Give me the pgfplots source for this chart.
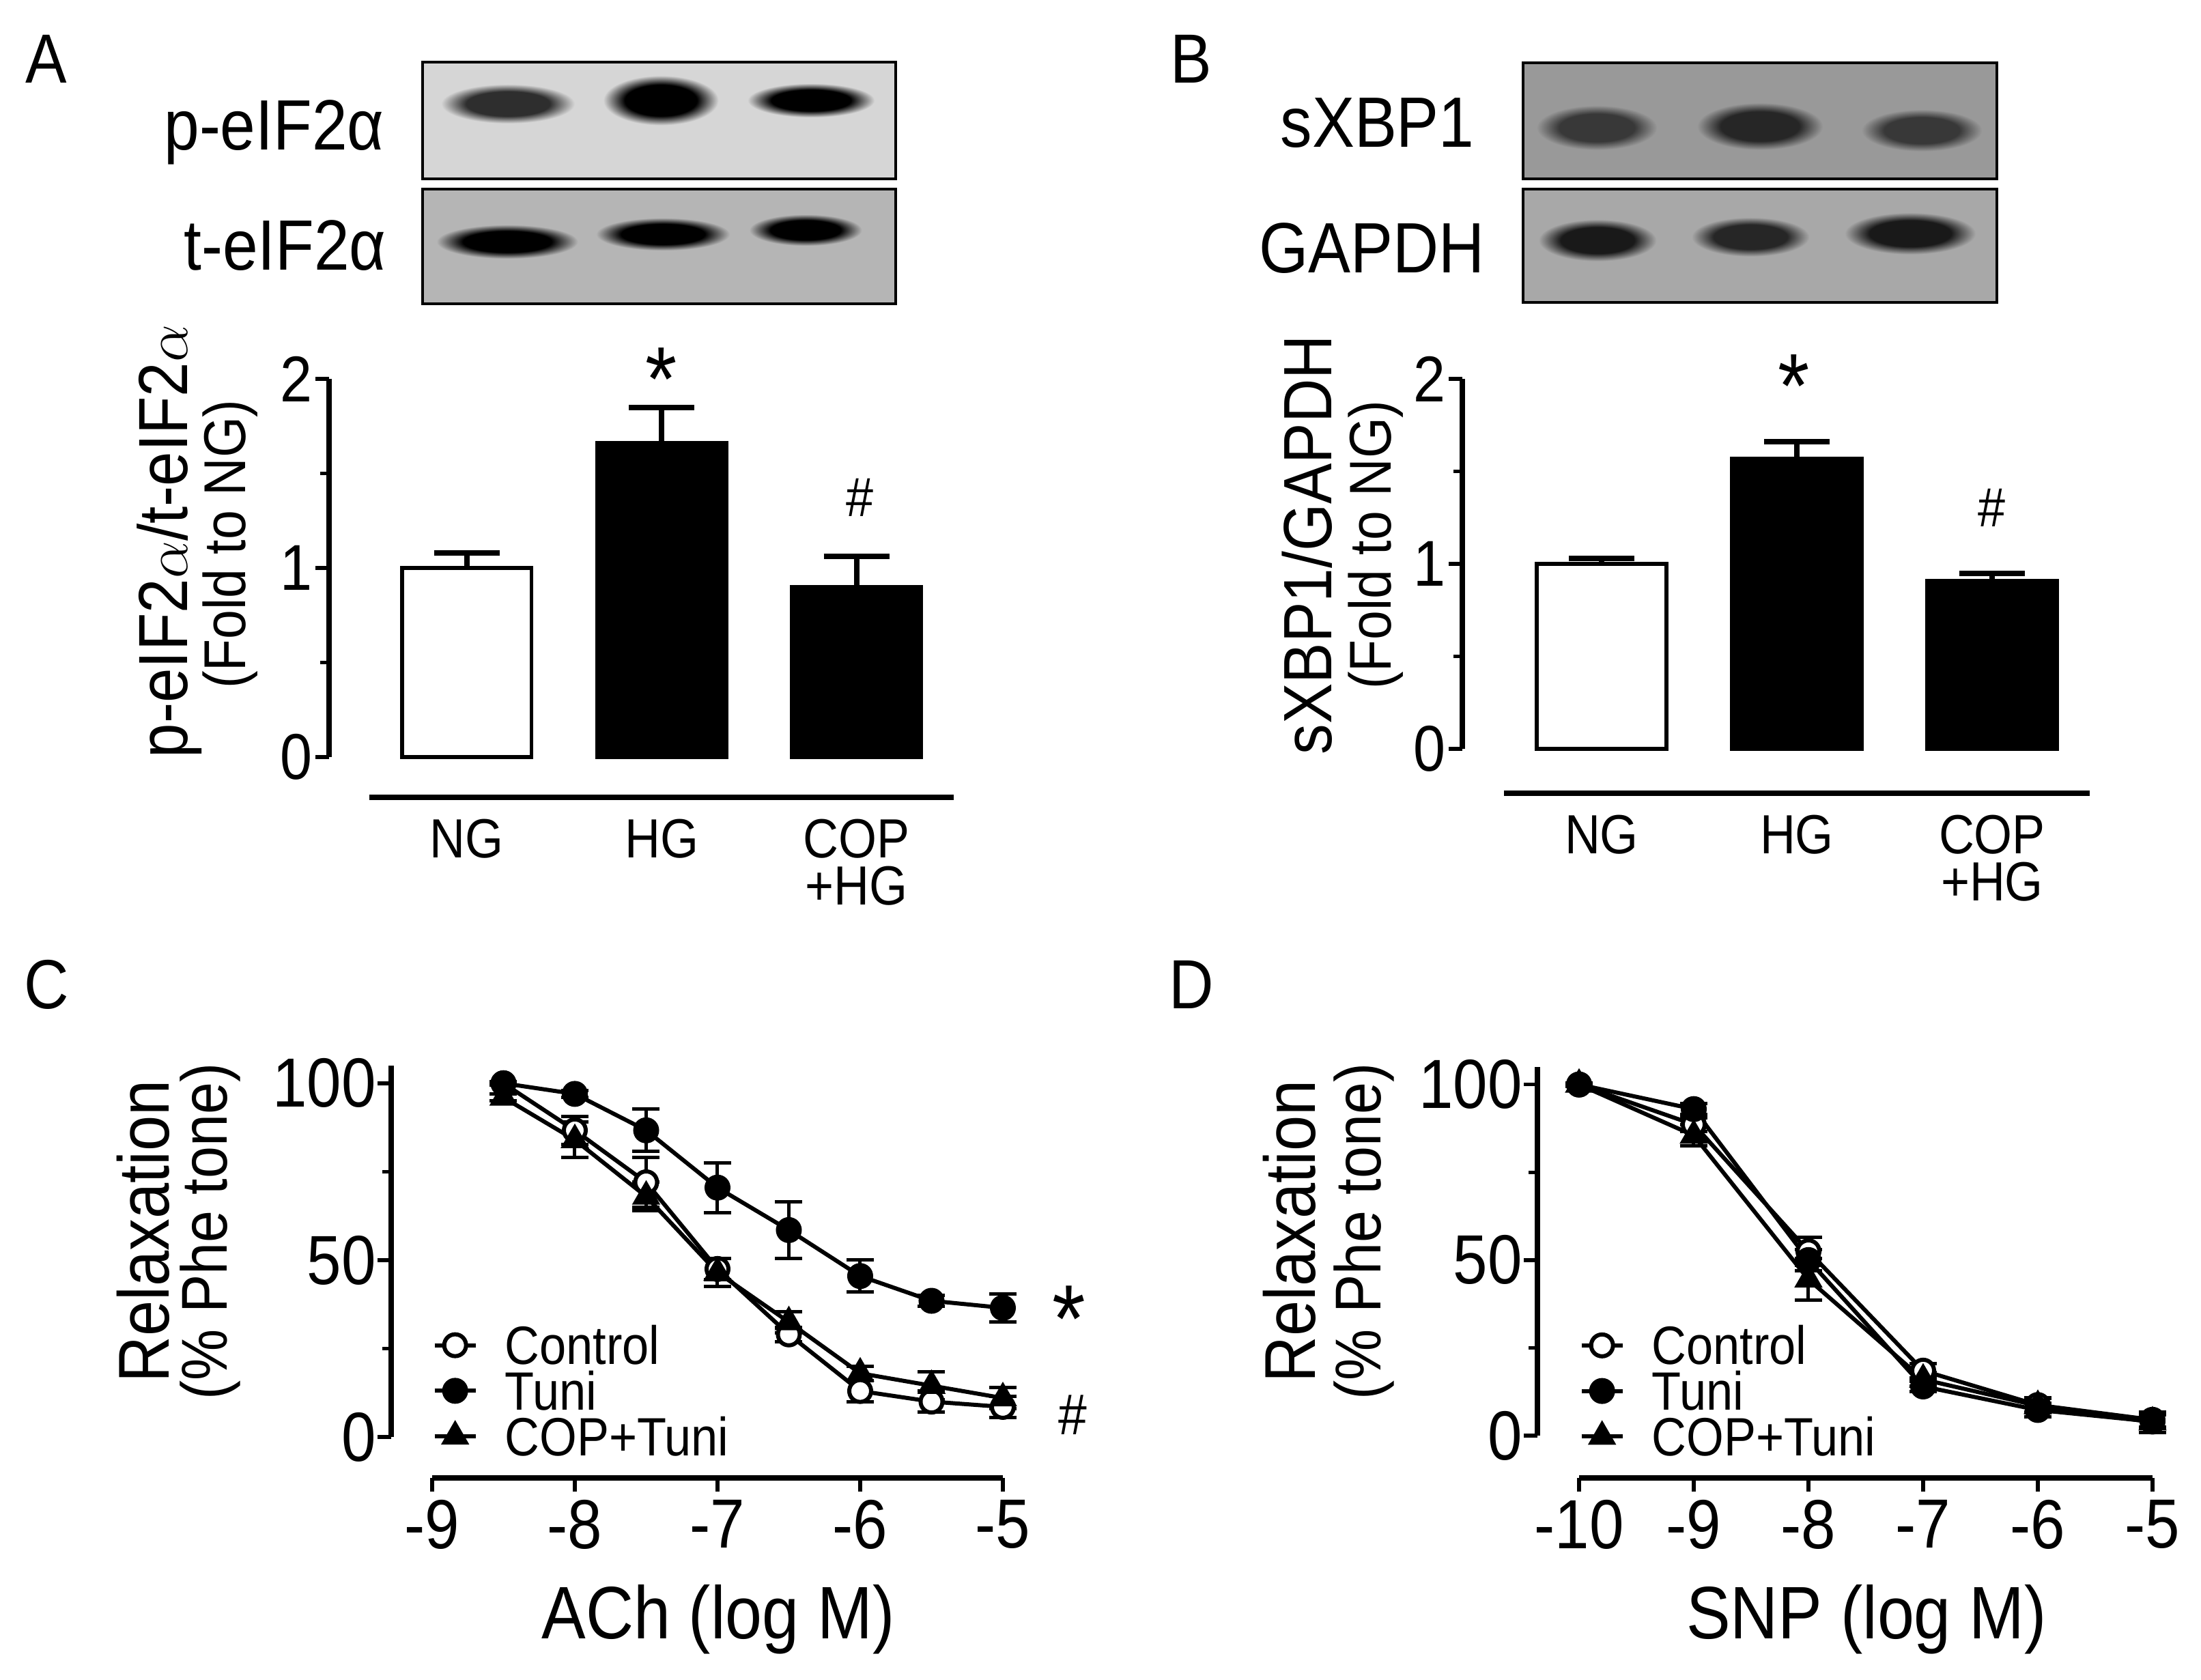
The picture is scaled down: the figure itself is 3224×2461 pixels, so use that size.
\documentclass[border=0pt]{standalone}
\usepackage{fontspec}
\setmainfont{Liberation Sans}[FakeStretch=0.89]
\usepackage{pgfplots}
\pgfplotsset{compat=1.18}
\newcommand{\fs}[1]{\fontsize{#1}{#1}\selectfont}
\colorlet{bandc}{black}\colorlet{bgc}{white}
\pgfdeclareradialshading[bandc,bgc]{band}{\pgfpointorigin}{color(0bp)=(bandc); color(15bp)=(bandc); color(24bp)=(bgc); color(50bp)=(bgc)}
\newcommand{\band}[6]{\colorlet{bandc}{#5}\colorlet{bgc}{#6}\shade[shading=band] (#1,#2) ellipse ({#3} and {#4});}
\pgfplotsset{
  myax/.style={
    scale only axis, clip=false,
    axis x line=bottom, axis y line=left,
    axis line style={line width=0.75mm,-},
    tick align=outside,
    major tick length=2mm, minor tick length=1.3mm,
    tick style={black,line width=0.55mm},
    /pgf/number format/assume math mode=true,
  },
  barax/.style={myax,
    xmin=-0.5,xmax=2.5,ymin=0,ymax=2,
    xtick={0,1,2}, xticklabels={NG,HG,{COP\\+HG}},
    major x tick style={draw=none},
    xticklabel style={align=center,font=\fontsize{23}{19.6}\selectfont},
    ytick={0,1,2}, minor ytick={0.5,1.5},
    yticklabel style={font=\fs{27},xshift=0.8mm},
  },
  bar/.style={ybar,bar width=0.665,bar shift=0pt,draw=black,line width=0.55mm,
    error bars/y dir=plus, error bars/y explicit, error bars/error mark=|,
    error bars/error bar style={line width=0.8mm,black},
    error bars/error mark options={mark size=4.8mm,line width=0.8mm,black}},
  lineax/.style={myax,
    ymin=0,ymax=105, ytick={0,50,100}, minor ytick={25,75},
    tick label style={font=\fs{29}},
    yticklabel style={xshift=1mm},
    legend cell align=left,
    legend style={draw=none, fill=none, anchor=north west, inner sep=0pt,
      row sep=3pt, column sep=4mm, font=\fs{22.5},
      nodes={inner sep=0pt, text height=16pt, text depth=0pt}},
  },
  ser/.style={black, line width=0.6mm, mark size=1.6mm,
    error bars/y dir=both, error bars/y explicit, error bars/error mark=|,
    error bars/error bar style={line width=0.5mm},
    error bars/error mark options={mark size=2mm,line width=0.5mm}},
}
\begin{document}
\begin{tikzpicture}
\begin{scope}[x=0.1mm,y=-0.1mm]
\path[use as bounding box] (0,0) rectangle (3224,2461);
% panel letters
\node[font=\fs{29}] at (68,86) {A};
\node[font=\fs{29}] at (1745,86) {B};
\node[font=\fs{29}] at (68,1442) {C};
\node[font=\fs{29}] at (1745,1442) {D};
% blots A
\fill[black!16] (619,91) rectangle (1312,262);
\band{744}{152}{102}{30}{black!82}{black!16}
\band{968}{147}{88}{38}{black}{black!16}
\band{1188}{147}{97}{26}{black}{black!16}
\draw[line width=0.35mm] (619,91) rectangle (1312,262);
\fill[black!29] (619,277) rectangle (1312,445);
\band{743}{354}{108}{26}{black}{black!29}
\band{971}{343}{102}{25}{black}{black!29}
\band{1180}{337}{86}{24}{black}{black!29}
\draw[line width=0.35mm] (619,277) rectangle (1312,445);
\node[font=\fs{29.7},anchor=base east] at (575,220) {p-eIF2α};
\node[font=\fs{29.7},anchor=base east] at (578,396) {t-eIF2α};
% blots B
\fill[black!40] (2231,92) rectangle (2925,262);
\band{2339}{187}{92}{34}{black!78}{black!40}
\band{2578}{185}{96}{36}{black!85}{black!40}
\band{2815}{191}{92}{32}{black!78}{black!40}
\draw[line width=0.35mm] (2231,92) rectangle (2925,262);
\fill[black!34] (2231,277) rectangle (2925,443);
\band{2340}{352}{90}{32}{black!90}{black!34}
\band{2564}{347}{90}{30}{black!85}{black!34}
\band{2798}{342}{100}{32}{black!90}{black!34}
\draw[line width=0.35mm] (2231,277) rectangle (2925,443);
\node[font=\fs{29.7},anchor=base east] at (2172,216) {sXBP1};
\node[font=\fs{29.7},anchor=base east] at (2187,400) {GAPDH};
% y labels
\node[rotate=90,font=\fs{29}] at (248,793) {p-eIF2$\alpha$/t-eIF2$\alpha$};
\node[rotate=90,font=\fs{24.6}] at (337,797) {(Fold to NG)};
\node[rotate=90,font=\fs{28.5}] at (1915,798) {sXBP1/GAPDH};
\node[rotate=90,font=\fs{24.6}] at (2015,798) {(Fold to NG)};
\node[rotate=90,font=\fs{30}] at (210,1804) {Relaxation};
\node[rotate=90,font=\fs{27}] at (308,1804) {(\% Phe tone)};
\node[rotate=90,font=\fs{30}] at (1889,1804) {Relaxation};
\node[rotate=90,font=\fs{27}] at (1998,1804) {(\% Phe tone)};
\node[font=\fs{31}] at (1052,2372) {ACh (log M)};
\node[font=\fs{31}] at (2734,2372) {SNP (log M)};
% significance marks
\node[font=\fs{38}] at (969,556) {*};
\node[font=\fs{23}] at (1259,729) {\#};
\node[font=\fs{38}] at (2628,566) {*};
\node[font=\fs{23}] at (2917,744) {\#};
\node[font=\fs{40}] at (1566,1932) {*};
\node[font=\fs{24}] at (1571,2073) {\#};
\end{scope}

% ---------- A bars
\begin{axis}[barax, at={(54.1mm,-110.9mm)}, anchor=south west,
  width=85.65mm, height=55.4mm, axis x line shift=5.9mm, axis y line shift=5.9mm]
\addplot[bar,fill=white] coordinates {(0,1.00) +- (0,0.08)};
\addplot[bar,fill=black] coordinates {(1,1.66) +- (0,0.19)};
\addplot[bar,fill=black] coordinates {(2,0.90) +- (0,0.16)};
\end{axis}

% ---------- B bars
\begin{axis}[barax, at={(220.3mm,-109.7mm)}, anchor=south west,
  width=85.8mm, height=54.2mm, axis x line shift=6.5mm, axis y line shift=6.1mm]
\addplot[bar,fill=white] coordinates {(0,1.00) +- (0,0.03)};
\addplot[bar,fill=black] coordinates {(1,1.57) +- (0,0.09)};
\addplot[bar,fill=black] coordinates {(2,0.91) +- (0,0.04)};
\end{axis}

% ---------- C
\begin{axis}[lineax, at={(63.3mm,-210.5mm)}, anchor=south west,
  width=83.6mm, height=54.4mm, xmin=-9, xmax=-5, xtick={-9,-8,-7,-6,-5},
  axis x line shift=6.0mm, axis y line shift=6.0mm,
  legend style={at={(axis cs:-9,31.5)}}]
\addplot[ser, mark=*, mark options={fill=white}] table[x=x,y=y,y error=e] {
x y e
-8.5 100 0.5
-8 86.7 4
-7.5 72 7
-7 47.5 3
-6.5 29 2
-6 13 3
-5.5 10 3
-5 8.5 3
};
\addlegendentry{Control}
\addplot[ser, mark=*, mark options={fill=black}] table[x=x,y=y,y error=e] {
x y e
-8.5 100 0.5
-8 97 1
-7.5 86.7 6
-7 70.5 7
-6.5 58.5 8
-6 45.5 4.5
-5.5 38.5 1.5
-5 36.5 4
};
\addlegendentry{Tuni}
\addplot[ser, mark=triangle*, mark size=1.8mm, mark options={fill=black}] table[x=x,y=y,y error=e] {
x y e
-8.5 96 1
-8 84 5
-7.5 68 4
-7 46.5 4
-6.5 32.5 3
-6 18 2
-5.5 14.5 4
-5 11 3
};
\addlegendentry{COP+Tuni}
\end{axis}

% ---------- D
\begin{axis}[lineax, at={(231.3mm,-210.3mm)}, anchor=south west,
  width=84.0mm, height=54.0mm, xmin=-10, xmax=-5, xtick={-10,-9,-8,-7,-6,-5},
  axis x line shift=6.2mm, axis y line shift=6.1mm,
  legend style={at={(axis cs:-10,31.3)}}]
\addplot[ser, mark=*, mark options={fill=white}] table[x=x,y=y,y error=e] {
x y e
-10 100 0.5
-9 88.6 2
-8 52.5 4
-7 18.5 2
-6 8.7 2
-5 4.5 2
};
\addlegendentry{Control}
\addplot[ser, mark=*, mark options={fill=black}] table[x=x,y=y,y error=e] {
x y e
-10 100 0.5
-9 93 1.5
-8 50 3
-7 14 1.5
-6 7.3 2
-5 4.0 2
};
\addlegendentry{Tuni}
\addplot[ser, mark=triangle*, mark size=1.8mm, mark options={fill=black}] table[x=x,y=y,y error=e] {
x y e
-10 100 0.5
-9 85.5 3
-8 44.5 6
-7 16 2
-6 8.5 2
-5 3.8 3
};
\addlegendentry{COP+Tuni}
\end{axis}
\end{tikzpicture}
\end{document}
